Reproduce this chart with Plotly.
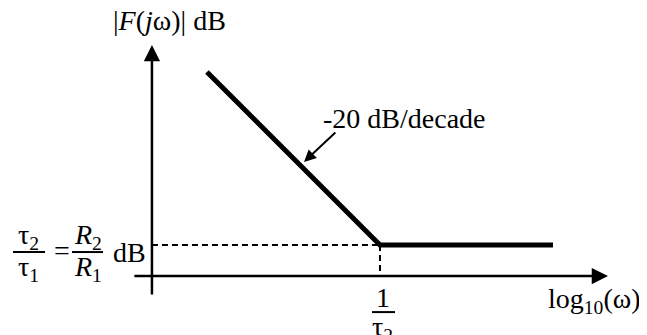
import plotly.graph_objects as go

# Bode magnitude asymptote: log10(omega) vs gain in dB
log_w = [0, 1, 2]          # 1 is log10(1/tau2)
gain_db = [20, 0, 0]

serif = "Liberation Serif"
fs = 28

fig = go.Figure()

fig.add_trace(go.Scatter(x=log_w, y=gain_db, mode="lines",
                         line=dict(color="black", width=5), hoverinfo="skip"))

# axes positions in data units
x_axis_y = -3.58
y_axis_x = -0.318

fig.add_shape(type="line", x0=y_axis_x, x1=log_w[1], y0=gain_db[1], y1=gain_db[1],
              line=dict(color="black", width=2, dash="6px,4px"))
fig.add_shape(type="line", x0=log_w[1], x1=log_w[1], y0=gain_db[1], y1=x_axis_y,
              line=dict(color="black", width=2, dash="6px,4px"))

# axes drawn as arrows
arrow = dict(showarrow=True, arrowhead=2, arrowsize=1.3, arrowwidth=2.5,
             arrowcolor="black", xref="x", yref="y", axref="x", ayref="y", text="")
fig.add_annotation(x=2.318, y=x_axis_y, ax=-0.428, ay=x_axis_y, **arrow)
fig.add_annotation(x=y_axis_x, y=23.12, ax=y_axis_x, ay=-5.9, **arrow)

# slope pointer
fig.add_annotation(x=0.561, y=9.60, ax=0.751, ay=13.18, showarrow=True,
                   arrowhead=2, arrowsize=1.2, arrowwidth=2, arrowcolor="black",
                   xref="x", yref="y", axref="x", ayref="y", text="")

def label(txt, x, y):
    fig.add_annotation(x=x, y=y, text=txt, showarrow=False, xref="x", yref="y",
                       font=dict(size=fs, color="black"))

label("-20 dB/decade", 1.139, 14.68)
label("|<i>F</i>(<i>j</i>ω)| dB", -0.214, 26.0)
label("log<sub>10</sub>(ω)", 2.237, -6.36)

# 1/tau2 under the corner
label("1", 1.017, -6.01)
label("τ<sub>2</sub>", 1.017, -9.6)
fig.add_shape(type="line", x0=0.954, x1=1.087, y0=-7.75, y1=-7.75,
              line=dict(color="black", width=2))

# tau2/tau1 = R2/R1 dB
label("τ<sub>2</sub>", -1.029, 1.04)
label("τ<sub>1</sub>", -1.029, -2.66)
fig.add_shape(type="line", x0=-1.121, x1=-0.936, y0=-0.81, y1=-0.81,
              line=dict(color="black", width=2))
label("=", -0.838, -0.58)
label("<i>R</i><sub>2</sub>", -0.688, 1.04)
label("<i>R</i><sub>1</sub>", -0.688, -2.66)
fig.add_shape(type="line", x0=-0.780, x1=-0.601, y0=-0.81, y1=-0.81,
              line=dict(color="black", width=2))
label("dB", -0.445, -0.81)

# page body has an 8px margin, so the figure is 8px smaller each way
fig.update_xaxes(visible=False, range=[-1.150, 2.5434])
fig.update_yaxes(visible=False, range=[-10.40, 27.40])
fig.update_layout(width=639, height=327, margin=dict(l=0, r=0, t=0, b=0),
                  font=dict(family=serif),
                  plot_bgcolor="white", paper_bgcolor="white", showlegend=False)

fig.write_html("out.html")
